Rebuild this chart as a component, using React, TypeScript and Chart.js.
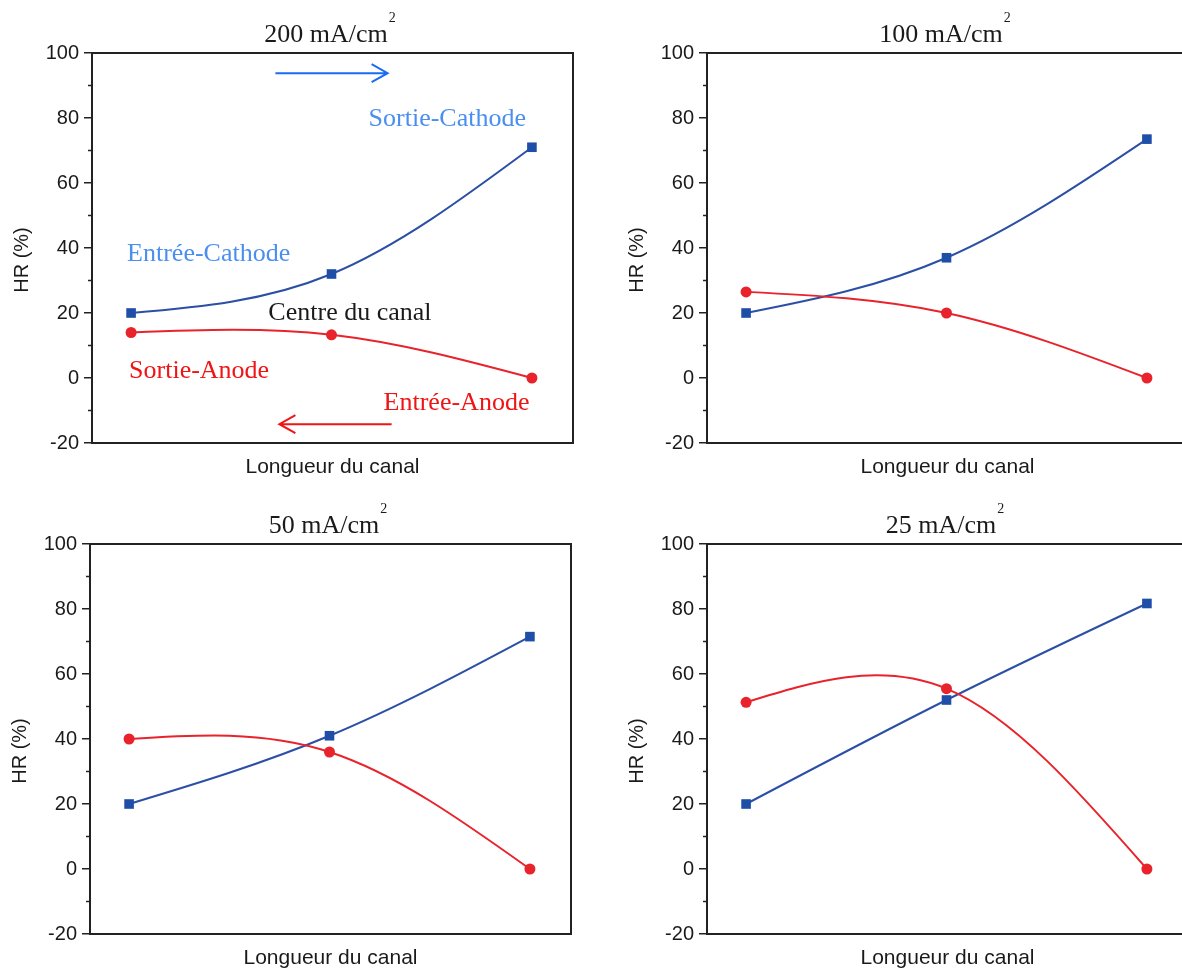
import React, { useEffect, useRef } from 'react';
import { Chart, registerables } from 'chart.js';

Chart.register(...registerables);

// ---- data ----
const positions = [0, 1, 2]; // Entrée cathode, centre du canal, sortie cathode
const panelTitles = ['200 mA/cm', '100 mA/cm', '50 mA/cm', '25 mA/cm'];
const cathode200 = [20, 32, 71];
const anode200 = [14, 13.3, 0];
const cathode100 = [20, 37, 73.5];
const anode100 = [26.5, 20, 0];
const cathode50 = [20, 41, 71.5];
const anode50 = [40, 36, 0];
const cathode25 = [20, 52, 81.7];
const anode25 = [51.3, 55.5, 0];
const yMinorTicks = [-10, 10, 30, 50, 70, 90];

// annotations of the first panel (data coordinates)
const labels200 = [
  { text: 'Sortie-Cathode', x: 1.185, y: 77.5, color: '#4a8ff0' },
  { text: 'Entrée-Cathode', x: -0.02, y: 36, color: '#4a8ff0' },
  { text: 'Centre du canal', x: 0.685, y: 17.8, color: '#1a1a1a' },
  { text: 'Sortie-Anode', x: -0.01, y: 0, color: '#f01414' },
  { text: 'Entrée-Anode', x: 1.26, y: -9.8, color: '#f01414' },
];
const arrows200 = [
  { from: 0.72, to: 1.28, y: 93.8, color: '#1a6cf0' },
  { from: 1.3, to: 0.74, y: -14.2, color: '#f01414' },
];

const BLUE_LINE = '#2c4fa6';
const BLUE_MARK = '#1f4ea8';
const RED = '#e8232b';
const AXIS = '#222222';

// Natural cubic spline through the points (as Origin's "spline" connection),
// applied to Chart.js' own bezier control points.
const naturalSpline = {
  id: 'naturalSpline',
  beforeDatasetsDraw(chart: any) {
    chart.data.datasets.forEach((_d: any, di: number) => {
      const meta = chart.getDatasetMeta(di);
      const pts = meta.data;
      const n = pts.length;
      if (n < 3) return;
      const xs = pts.map((p: any) => p.x);
      const ys = pts.map((p: any) => p.y);
      const h: number[] = [];
      for (let i = 0; i < n - 1; i++) h.push(xs[i + 1] - xs[i]);
      const M = new Array(n).fill(0);
      const m = n - 2;
      const A: number[] = [], B: number[] = [], C: number[] = [], D: number[] = [];
      for (let i = 1; i <= m; i++) {
        A.push(h[i - 1]);
        B.push(2 * (h[i - 1] + h[i]));
        C.push(h[i]);
        D.push(6 * ((ys[i + 1] - ys[i]) / h[i] - (ys[i] - ys[i - 1]) / h[i - 1]));
      }
      for (let i = 1; i < m; i++) {
        const w = A[i] / B[i - 1];
        B[i] -= w * C[i - 1];
        D[i] -= w * D[i - 1];
      }
      const sol = new Array(m).fill(0);
      sol[m - 1] = D[m - 1] / B[m - 1];
      for (let i = m - 2; i >= 0; i--) sol[i] = (D[i] - C[i] * sol[i + 1]) / B[i];
      for (let i = 1; i <= m; i++) M[i] = sol[i - 1];
      const slope = new Array(n).fill(0);
      for (let i = 0; i < n - 1; i++) {
        const s = (ys[i + 1] - ys[i]) / h[i];
        slope[i] = s - (h[i] * (2 * M[i] + M[i + 1])) / 6;
      }
      const last = n - 2;
      slope[n - 1] = (ys[n - 1] - ys[last]) / h[last] + (h[last] * (M[last] + 2 * M[n - 1])) / 6;
      for (let i = 0; i < n; i++) {
        const p = pts[i];
        const hp = i > 0 ? h[i - 1] : h[0];
        const hn = i < n - 1 ? h[i] : h[n - 2];
        p.cp1x = xs[i] - hp / 3;
        p.cp1y = ys[i] - (slope[i] * hp) / 3;
        p.cp2x = xs[i] + hn / 3;
        p.cp2y = ys[i] + (slope[i] * hn) / 3;
      }
      meta.dataset._pointsUpdated = true;
      meta.dataset._path = undefined;
    });
  },
};

const decor = {
  id: 'decor',
  afterDatasetsDraw(chart: any, _args: any, opts: any) {
    const { ctx, chartArea: a, scales } = chart;
    const x = scales.x;
    const y = scales.y;
    ctx.save();
    // frame
    ctx.strokeStyle = AXIS;
    ctx.lineWidth = 2;
    ctx.strokeRect(a.left, a.top, a.right - a.left, a.bottom - a.top);
    // minor ticks
    ctx.lineWidth = 1.5;
    yMinorTicks.forEach((v) => {
      const py = y.getPixelForValue(v);
      ctx.beginPath();
      ctx.moveTo(a.left - 4, py);
      ctx.lineTo(a.left, py);
      ctx.stroke();
    });
    // title with superscript
    ctx.fillStyle = '#1a1a1a';
    ctx.textAlign = 'left';
    ctx.textBaseline = 'alphabetic';
    ctx.font = '26px "Liberation Serif"';
    const w1 = ctx.measureText(opts.title).width;
    ctx.font = '14px "Liberation Serif"';
    const w2 = ctx.measureText('2').width;
    const cx = (a.left + a.right) / 2 - 3;
    const start = cx - (w1 + w2) / 2;
    ctx.font = '26px "Liberation Serif"';
    ctx.fillText(opts.title, start, a.top - 11.5);
    ctx.font = '14px "Liberation Serif"';
    ctx.fillText('2', start + w1 + 1, a.top - 31);
    // y axis title
    ctx.save();
    ctx.translate(a.left - 70, (a.top + a.bottom) / 2 + 12);
    ctx.rotate(-Math.PI / 2);
    ctx.textAlign = 'center';
    ctx.textBaseline = 'middle';
    ctx.font = '20px "Liberation Sans"';
    ctx.fillStyle = '#1a1a1a';
    ctx.fillText('HR (%)', 0, 0);
    ctx.restore();
    // annotations
    (opts.labels || []).forEach((l: any) => {
      ctx.font = '26px "Liberation Serif"';
      ctx.fillStyle = l.color;
      ctx.textAlign = 'left';
      ctx.textBaseline = 'alphabetic';
      ctx.fillText(l.text, x.getPixelForValue(l.x), y.getPixelForValue(l.y));
    });
    (opts.arrows || []).forEach((ar: any) => {
      const x1 = x.getPixelForValue(ar.from);
      const x2 = x.getPixelForValue(ar.to);
      const py = y.getPixelForValue(ar.y);
      const dir = x2 > x1 ? 1 : -1;
      ctx.strokeStyle = ar.color;
      ctx.lineWidth = 2;
      ctx.beginPath();
      ctx.moveTo(x1, py);
      ctx.lineTo(x2, py);
      ctx.moveTo(x2 - dir * 16, py - 9);
      ctx.lineTo(x2, py);
      ctx.lineTo(x2 - dir * 16, py + 9);
      ctx.stroke();
    });
    ctx.restore();
  },
};

function Panel(props: {
  left: number;
  top: number;
  title: string;
  cathode: number[];
  anode: number[];
  labels?: any[];
  arrows?: any[];
}) {
  const ref = useRef<HTMLCanvasElement>(null);
  useEffect(() => {
    if (!ref.current) return;
    const chart = new Chart(ref.current, {
      type: 'line',
      data: {
        datasets: [
          {
            label: 'Anode',
            data: positions.map((p, i) => ({ x: p, y: props.anode[i] })),
            borderColor: RED,
            backgroundColor: RED,
            borderWidth: 2,
            pointStyle: 'circle',
            pointRadius: 5.5,
            pointBorderWidth: 0,
            tension: 0.4,
          },
          {
            label: 'Cathode',
            data: positions.map((p, i) => ({ x: p, y: props.cathode[i] })),
            borderColor: BLUE_LINE,
            backgroundColor: BLUE_MARK,
            borderWidth: 2,
            pointStyle: 'rect',
            pointRadius: 6.8,
            pointBorderWidth: 0,
            tension: 0.4,
          },
        ],
      },
      options: {
        responsive: false,
        animation: false,
        events: [],
        layout: { padding: { top: 53, right: 27, bottom: 0, left: 0 } },
        plugins: {
          legend: { display: false },
          tooltip: { enabled: false },
          decor: { title: props.title, labels: props.labels, arrows: props.arrows },
        } as any,
        scales: {
          x: {
            type: 'linear',
            min: -0.195,
            max: 2.205,
            ticks: { display: false },
            grid: { display: false },
            border: { display: false },
            title: {
              display: true,
              text: 'Longueur du canal',
              color: '#1a1a1a',
              font: { family: '"Liberation Sans"', size: 21 },
              padding: { top: 0, bottom: 10 },
            },
            afterFit: (s: any) => {
              s.height = 47;
            },
          },
          y: {
            min: -20,
            max: 100,
            ticks: {
              stepSize: 20,
              color: '#1a1a1a',
              padding: 5,
              font: { family: '"Liberation Sans"', size: 20 },
            },
            grid: {
              display: true,
              drawOnChartArea: false,
              drawTicks: true,
              tickLength: 8,
              color: AXIS,
              lineWidth: 1.5,
            },
            border: { display: false },
            afterFit: (s: any) => {
              s.width = 92;
            },
          },
        },
      },
      plugins: [naturalSpline, decor],
    });
    return () => chart.destroy();
  }, []);
  return (
    <canvas
      ref={ref}
      width={600}
      height={490}
      style={{ position: 'absolute', left: props.left, top: props.top, width: 600, height: 490 }}
    />
  );
}

export default function App() {
  return (
    <div
      style={{
        position: 'fixed',
        left: 0,
        top: 0,
        width: 1182,
        height: 972,
        overflow: 'hidden',
        background: '#ffffff',
      }}
    >
      <Panel left={0} top={0} title={panelTitles[0]} cathode={cathode200} anode={anode200} labels={labels200} arrows={arrows200} />
      <Panel left={615} top={0} title={panelTitles[1]} cathode={cathode100} anode={anode100} />
      <Panel left={-2} top={491} title={panelTitles[2]} cathode={cathode50} anode={anode50} />
      <Panel left={615} top={491} title={panelTitles[3]} cathode={cathode25} anode={anode25} />
    </div>
  );
}
